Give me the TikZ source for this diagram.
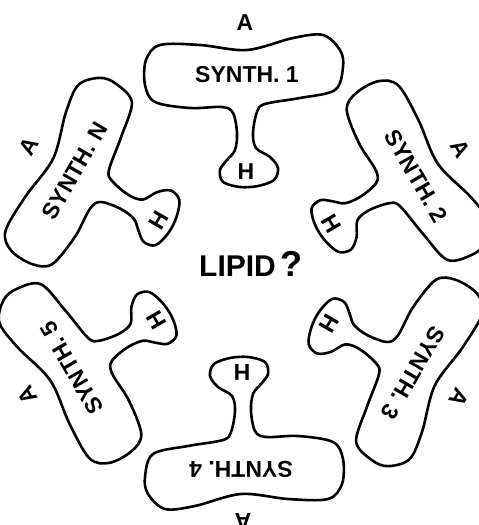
\documentclass[tikz,border=0pt]{standalone}
\usepackage{fontspec}
\setmainfont{Liberation Sans}
\begin{document}
\begin{tikzpicture}[x=1pt,y=1pt,
  outline/.style={line width=2.6pt, line join=round},
  lbl/.style={font=\bfseries\fontsize{23}{23}\selectfont, inner sep=0pt, transform shape},
  centre/.style={inner sep=0pt}]
\useasboundingbox (0,0) rectangle (479,525);
\foreach \k/\t in {0/1,1/2,2/3,3/4,4/5,5/N}{
  \begin{scope}[shift={(244,253)}, rotate=-60*\k]
    \draw[outline] plot[smooth cycle, tension=0.55] coordinates {
      (-84,227) (-44,227) (3,222) (49,234) (79,237)
      (96,222) (99,205) (91,182)
      (56,174) (21,168) (13,160) (9,139) (12,124)
      (26,115) (34,104) (30,92) (14,86) (-4,85) (-21,90)
      (-24,102) (-17,112) (-9,122) (-7,139) (-11,159)
      (-22,165) (-54,164) (-89,170) (-99,187) (-98,212)};
    \node[lbl] (syn\k) at (3,197) {SYNTH. \t};
    \node[lbl] (a\k) at (1,249) {A};
    \node[lbl] (h\k) at (2,100) {H};
  \end{scope}
}
\node[centre, font=\bfseries] (lipid) at (251,261)
  {\fontsize{30}{30}\selectfont LIPID\,{\fontsize{36}{36}\selectfont ?}};
\end{tikzpicture}
\end{document}
